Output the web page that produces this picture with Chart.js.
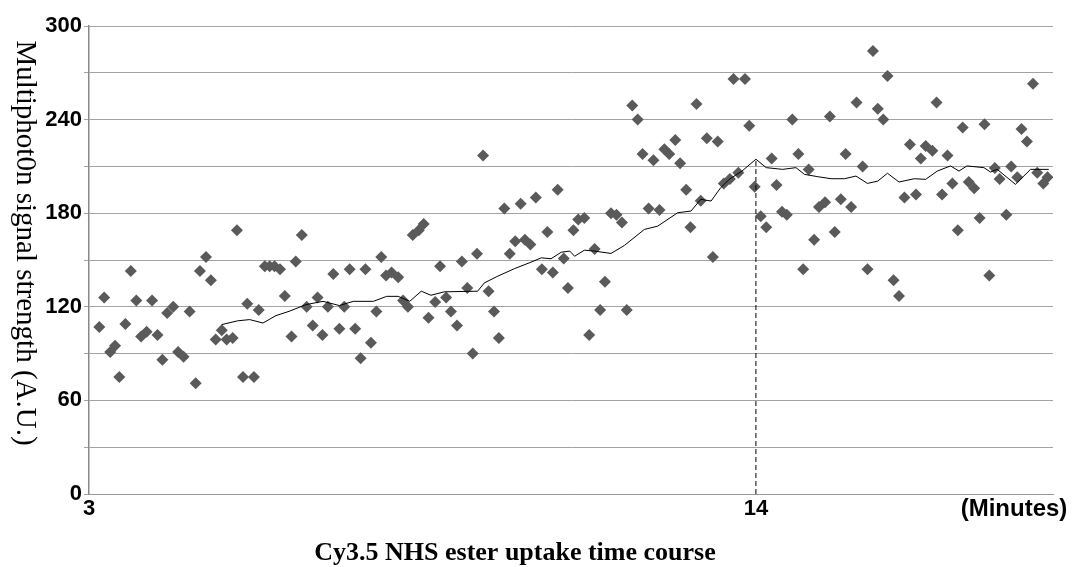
<!DOCTYPE html>
<html>
<head>
<meta charset="utf-8">
<script src="https://cdn.jsdelivr.net/npm/chart.js@4.4.1/dist/chart.umd.min.js"></script>
<style>
  html, body { margin: 0; padding: 0; background: #fff; }
</style>
</head>
<body>
<canvas id="uptakeChart" width="1073" height="567"></canvas>
<script>
// time (minutes) and signal of each measurement
const timeMin = [
  3.17, 3.25, 3.35, 3.43, 3.50, 3.60, 3.69, 3.78, 3.86, 3.95,
  4.04, 4.13, 4.21, 4.29, 4.39, 4.47, 4.56, 4.66, 4.76, 4.83,
  4.93, 5.01, 5.09, 5.19, 5.27, 5.37, 5.44, 5.54, 5.61, 5.72,
  5.80, 5.90, 5.98, 6.06, 6.15, 6.23, 6.34, 6.41, 6.51, 6.59,
  6.69, 6.77, 6.85, 6.94, 7.03, 7.13, 7.21, 7.30, 7.39, 7.48,
  7.56, 7.65, 7.74, 7.82, 7.90, 7.99, 8.10, 8.18, 8.26, 8.34,
  8.44, 8.52, 8.60, 8.71, 8.79, 8.89, 8.97, 9.07, 9.15, 9.24,
  9.33, 9.40, 9.50, 9.59, 9.68, 9.76, 9.85, 9.94, 10.03, 10.12,
  10.19, 10.28, 10.37, 10.47, 10.56, 10.65, 10.73, 10.83, 10.90, 10.99,
  11.07, 11.17, 11.25, 11.34, 11.43, 11.51, 11.61, 11.70, 11.79, 11.87,
  11.96, 12.05, 12.13, 12.23, 12.31, 12.41, 12.49, 12.57, 12.67, 12.75,
  12.85, 12.92, 13.02, 13.09, 13.19, 13.29, 13.37, 13.47, 13.57, 13.63,
  13.71, 13.82, 13.89, 13.98, 14.08, 14.17, 14.26, 14.34, 14.43, 14.51,
  14.60, 14.70, 14.78, 14.87, 14.96, 15.04, 15.14, 15.22, 15.30, 15.40,
  15.48, 15.57, 15.66, 15.76, 15.84, 15.93, 16.01, 16.10, 16.17, 16.27,
  16.36, 16.45, 16.54, 16.64, 16.72, 16.80, 16.91, 16.98, 17.07, 17.16,
  17.24, 17.33, 17.41, 17.51, 17.60, 17.69, 17.77, 17.85, 17.94, 18.02,
  18.13, 18.21, 18.31, 18.38, 18.47, 18.57, 18.64, 18.74, 18.81
];
const signal = [
  107, 126, 91, 95, 75, 109, 143, 124, 101, 104,
  124, 102, 86, 116, 120, 91, 88, 117, 71, 143,
  152, 137, 99, 105, 99, 100, 169, 75, 122, 75,
  118, 146, 146, 146, 144, 127, 101, 149, 166, 120,
  108, 126, 102, 120, 141, 106, 120, 144, 106, 87,
  144, 97, 117, 152, 140, 142, 139, 124, 120, 166,
  169, 173, 113, 123, 146, 126, 117, 108, 149, 132,
  90, 154, 217, 130, 117, 100, 183, 154, 162, 186,
  163, 160, 190, 144, 168, 142, 195, 151, 132, 169,
  176, 177, 102, 157, 118, 136, 180, 179, 174, 118,
  249, 240, 218, 183, 214, 182, 221, 218, 227, 212,
  195, 171, 250, 188, 228, 152, 226, 199, 202, 266,
  206, 266, 236, 197, 178, 171, 215, 198, 181, 179,
  240, 218, 144, 208, 163, 184, 187, 242, 168, 189,
  218, 184, 251, 210, 144, 284, 247, 240, 268, 137,
  127, 190, 224, 192, 215, 223, 220, 251, 192, 217,
  199, 169, 235, 200, 196, 177, 237, 140, 209, 202,
  179, 210, 203, 234, 226, 263, 206, 199, 203
];

// running average trace
const avgTime = [
  5.19, 5.45, 5.65, 5.87, 6.08, 6.30, 6.58, 6.86, 7.13, 7.36,
  7.69, 7.91, 8.10, 8.29, 8.48, 8.64, 8.86, 9.41, 9.52, 9.74,
  10.02, 10.29, 10.46, 10.62, 10.79, 10.93, 11.01, 11.17, 11.34, 11.61,
  11.83, 12.16, 12.38, 12.71, 12.93, 13.09, 13.26, 13.42, 13.56, 13.77,
  14.00, 14.17, 14.44, 14.66, 14.80, 15.02, 15.24, 15.46, 15.65, 15.84,
  16.01, 16.17, 16.36, 16.61, 16.80, 16.99, 17.21, 17.35, 17.48, 17.76,
  17.87, 17.98, 18.28, 18.53, 18.83
];
const avgSignal = [
  108.6, 111, 111.8, 109.6, 114.3, 117.1, 121.4, 123.5, 120.8, 123.5,
  123.5, 126.7, 126.7, 123.5, 130, 127.4, 129.6, 130, 135.3, 139.6,
  144.5, 148.6, 151.4, 150.8, 155, 155.7, 152.4, 156.3, 155.7, 154.2,
  159.3, 169.6, 171.7, 180.3, 181.4, 188.9, 187.8, 196.4, 201.7, 207,
  214.6, 209.2, 208.1, 209.2, 204.9, 203.4, 202.1, 202.1, 203.8, 199.1,
  200.6, 205.6, 200, 202.1, 201.7, 207, 210.3, 207, 210.3, 209.2,
  206.4, 208.1, 198.5, 208.1, 208.1
];

// dashed marker at the plateau
const markerTime = 14;
const markerTop = 214.6;

const xTicks = [3, 14];
const xUnit = "(Minutes)";
const xTitle = "Cy3.5 NHS ester uptake time course";
const yTitle = "Multiphot0n signal strength (A.U.)";

const titlesPlugin = {
  id: "titles",
  afterDraw(chart) {
    const ctx = chart.ctx;
    ctx.save();
    ctx.fillStyle = "#000";
    ctx.textAlign = "center";
    ctx.textBaseline = "alphabetic";
    ctx.font = 'bold 26px "Liberation Serif"';
    ctx.fillText(xTitle, 515, 560);
    ctx.font = 'bold 24px "Liberation Sans"';
    ctx.fillText(xUnit, 1014, 516);
    ctx.translate(25, 243);
    ctx.rotate(Math.PI / 2);
    ctx.textBaseline = "middle";
    ctx.font = '29px "Liberation Serif"';
    ctx.fillText(yTitle, 0, 0);
    ctx.restore();
  },
};

const tickFont = { family: '"Liberation Sans", Arial, sans-serif', size: 22, weight: "bold" };

new Chart(document.getElementById("uptakeChart"), {
  type: "scatter",
  data: {
    datasets: [
      {
        data: [{ x: markerTime, y: 0 }, { x: markerTime, y: markerTop }],
        showLine: true,
        borderColor: "#000",
        borderWidth: 1,
        borderDash: [5, 3],
        pointRadius: 0,
      },
      {
        data: avgTime.map((t, i) => ({ x: t, y: avgSignal[i] })),
        showLine: true,
        borderColor: "#000",
        borderWidth: 1,
        pointRadius: 0,
      },
      {
        data: timeMin.map((t, i) => ({ x: t, y: signal[i] })),
        pointStyle: "rectRot",
        pointRadius: 6,
        backgroundColor: "#5a5a5a",
        borderWidth: 0,
      },
    ],
  },
  options: {
    responsive: false,
    animation: false,
    layout: { padding: { top: 26, right: 20, left: 0, bottom: 0 } },
    scales: {
      x: {
        type: "linear",
        min: 3,
        max: 18.9,
        afterFit: (s) => { s.height = 73; },
        afterBuildTicks: (s) => { s.ticks = xTicks.map((v) => ({ value: v })); },
        grid: { display: false },
        border: { color: "#999", width: 1 },
        ticks: {
          font: tickFont,
          color: "#000",
          padding: -6,
          maxRotation: 0,
          autoSkip: false,
        },
      },
      y: {
        min: 0,
        max: 300,
        afterFit: (s) => { s.width = 89; },
        grid: { color: "#a3a3a3", lineWidth: 1, tickLength: 5 },
        border: { color: "#888", width: 1.5 },
        ticks: {
          stepSize: 30,
          font: tickFont,
          color: "#000",
          padding: 2,
          callback: (v) => (v % 60 === 0 ? v : ""),
        },
      },
    },
    plugins: {
      legend: { display: false },
      tooltip: { enabled: false },
    },
  },
  plugins: [titlesPlugin],
});
</script>
</body>
</html>
